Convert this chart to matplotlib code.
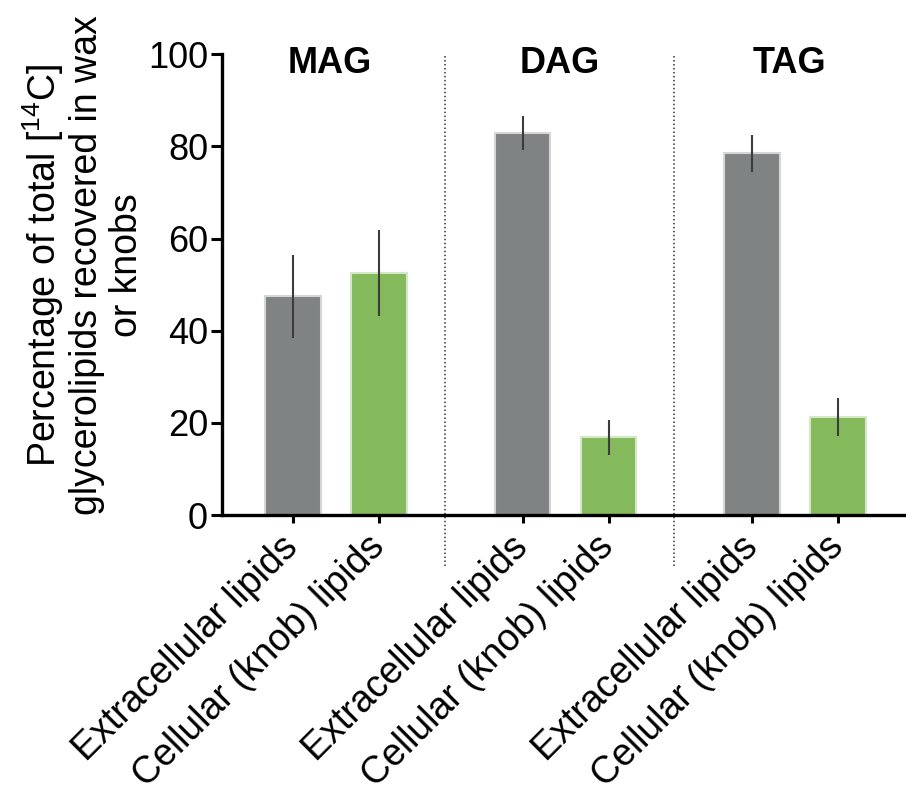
import matplotlib
matplotlib.use('Agg')
import matplotlib.pyplot as plt
import numpy as np

plt.rcParams['font.family'] = ['Liberation Sans', 'DejaVu Sans']
plt.rcParams['mathtext.fontset'] = 'custom'
plt.rcParams['mathtext.rm'] = 'Liberation Sans'
plt.rcParams['mathtext.it'] = 'Liberation Sans:italic'

groups = ['MAG', 'DAG', 'TAG']
extracellular = [47.5, 82.9, 78.5]
extracellular_err = [9.0, 3.7, 4.0]
cellular = [52.5, 16.9, 21.3]
cellular_err = [9.3, 3.8, 4.1]
tick_labels = ['Extracellular lipids', 'Cellular (knob) lipids'] * 3

grey = '#808384'
green = '#84ba5b'

fig = plt.figure(figsize=(9.06, 7.95), dpi=100)
ax = fig.add_axes([0.245, 0.352, 0.755, 0.58])

step = 2.67
x_ext = np.arange(3) * step
x_cel = x_ext + 1
w = 0.65

ax.bar(x_ext, extracellular, w, color=grey, edgecolor='#d6d6d6', linewidth=1.5, zorder=2)
ax.bar(x_cel, cellular, w, color=green, edgecolor='#d6e6c8', linewidth=1.5, zorder=2)
ax.errorbar(x_ext, extracellular, yerr=extracellular_err, fmt='none',
            ecolor='#3c3c3c', elinewidth=1.5, capsize=0, zorder=3)
ax.errorbar(x_cel, cellular, yerr=cellular_err, fmt='none',
            ecolor='#3c3c3c', elinewidth=1.5, capsize=0, zorder=3)

# dotted separators between groups
for xs in (x_cel[:2] + x_ext[1:]) / 2:
    ax.axvline(xs - 0.07, ymin=-0.11, ymax=1.0, color='#333333', linestyle=(0, (1, 1.6)),
               linewidth=1.1, clip_on=False, zorder=1)

for g, xe, xc in zip(groups, x_ext, x_cel):
    ax.text((xe + xc) / 2 - 0.07, 98, g, ha='center', va='center',
            fontsize=26, fontweight='bold')

ax.set_xlim(-0.826, 7.13)
ax.set_ylim(0, 100)
ax.set_yticks([0, 20, 40, 60, 80, 100])
ticks = np.sort(np.concatenate([x_ext, x_cel]))
ax.set_xticks(ticks)
ax.set_xticklabels(tick_labels, rotation=45, ha='right', va='center',
                   rotation_mode='anchor', fontsize=27)

ax.tick_params(axis='y', labelsize=26, length=8, width=2.2, pad=2)
ax.tick_params(axis='x', length=6, width=2.2, pad=13)

for side in ['top', 'right']:
    ax.spines[side].set_visible(False)
for side in ['left', 'bottom']:
    ax.spines[side].set_linewidth(2.4)

ax.set_ylabel('Percentage of total [$^{14}$C]\nglycerolipids recovered in wax\nor knobs',
              fontsize=27, multialignment='center', linespacing=1.12)
ax.yaxis.set_label_coords(-0.113, 0.542)

fig.savefig('out.png', dpi=100)
